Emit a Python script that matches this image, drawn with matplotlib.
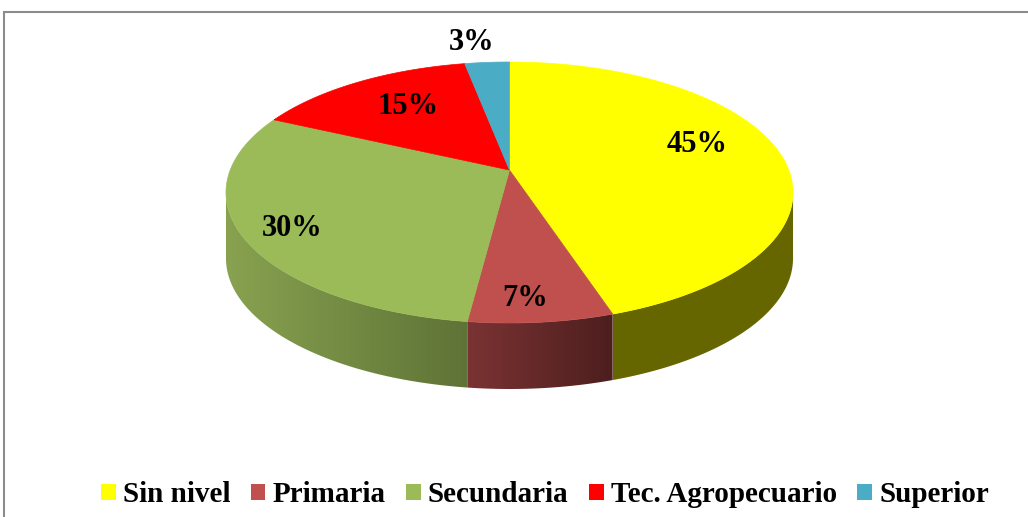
import numpy as np
import matplotlib.pyplot as plt
from matplotlib.patches import Polygon, Patch, Rectangle
from matplotlib.colors import LinearSegmentedColormap

categorias = ['Sin nivel', 'Primaria', 'Secundaria', 'Tec. Agropecuario', 'Superior']
porcentajes = [45, 7, 30, 15, 3]
etiquetas = ['45%', '7%', '30%', '15%', '3%']

colores = ['#FFFF00', '#C0504D', '#9BBB59', '#FF0000', '#4BACC6']
# colores del costado (izquierda -> derecha)
lados = [('#676600', '#666600'), ('#7B3333', '#4D1E1E'), ('#88A250', '#5E7336'),
         ('#990000', '#660000'), ('#2E6F80', '#1F4C58')]

# geometria en pixeles
W, H = 1028, 517
CX, CY = 509.5, 192.5
A, B = 283.5, 130.5
PROF = 66
C = 0.172  # desplazamiento del centro por perspectiva

# posiciones de etiquetas (pixeles)
pos_etq = [(697, 145), (525, 298), (292, 228), (408, 106), (472, 42)]

fig = plt.figure(figsize=(W / 100, H / 100), dpi=100)
ax = fig.add_axes([0, 0, 1, 1])
ax.set_xlim(0, W)
ax.set_ylim(H, 0)
ax.axis('off')

# marco
fig.patches.append(Rectangle((4 / W, -0.1), 1.2, 1.1 - 12 / H, transform=fig.transFigure,
                             fill=False, edgecolor='#8C8C8C', linewidth=1.5))


def psi_de_frac(f):
    # angulo en la elipse de pantalla para una fraccion del circulo
    phi = 2 * np.pi * f
    u, v = np.sin(phi), np.cos(phi)
    d = 1 + C * v
    v2 = (v + C) / d
    u2 = u * np.sqrt(1 - C ** 2) / d
    return np.arctan2(u2, v2) % (2 * np.pi)


def punto(psi):
    return CX + A * np.sin(psi), CY - B * np.cos(psi)


total = float(sum(porcentajes))
acum = np.concatenate([[0], np.cumsum(porcentajes)]) / total
bordes = [psi_de_frac(f) for f in acum]
bordes[-1] = 2 * np.pi
apex = (CX, CY - B * C)

# costados (solo mitad frontal)
for i in range(len(porcentajes)):
    p1, p2 = bordes[i], bordes[i + 1]
    if p2 < p1:
        p2 += 2 * np.pi
    s1, s2 = max(p1, np.pi / 2), min(p2, 3 * np.pi / 2)
    if s2 <= s1:
        continue
    t = np.linspace(s1, s2, 100)
    xs, ys = punto(t)
    pts = np.column_stack([np.concatenate([xs, xs[::-1]]),
                           np.concatenate([ys, ys[::-1] + PROF])])
    poly = Polygon(pts, closed=True, facecolor='none', edgecolor='none')
    ax.add_patch(poly)
    cmap = LinearSegmentedColormap.from_list('g%d' % i, list(lados[i]))
    grad = np.linspace(0, 1, 256).reshape(1, -1)
    im = ax.imshow(grad, cmap=cmap, aspect='auto',
                   extent=[xs.min(), xs.max(), ys.max() + PROF, ys.min()], zorder=1)
    im.set_clip_path(poly)

# caras superiores
for i in range(len(porcentajes)):
    p1, p2 = bordes[i], bordes[i + 1]
    if p2 < p1:
        p2 += 2 * np.pi
    t = np.linspace(p1, p2, 200)
    xs, ys = punto(t)
    pts = np.column_stack([np.concatenate([[apex[0]], xs]), np.concatenate([[apex[1]], ys])])
    ax.add_patch(Polygon(pts, closed=True, facecolor=colores[i], edgecolor=colores[i],
                         linewidth=0.5, zorder=2))

for (x, y), txt in zip(pos_etq, etiquetas):
    ax.text(x, y, txt, ha='center', va='center', fontsize=22, fontweight='bold',
            family='Liberation Serif', zorder=3)

handles = [Patch(facecolor=c, edgecolor='none') for c in colores]
fig.legend(handles, categorias, loc='center', bbox_to_anchor=(545 / W, 1 - 495 / H), ncol=5,
           frameon=False, handlelength=0.5, handleheight=0.5, handletextpad=0.25,
           columnspacing=0.7, borderaxespad=0,
           prop={'family': 'Liberation Serif', 'weight': 'bold', 'size': 21})

fig.savefig('out.png', dpi=100)
